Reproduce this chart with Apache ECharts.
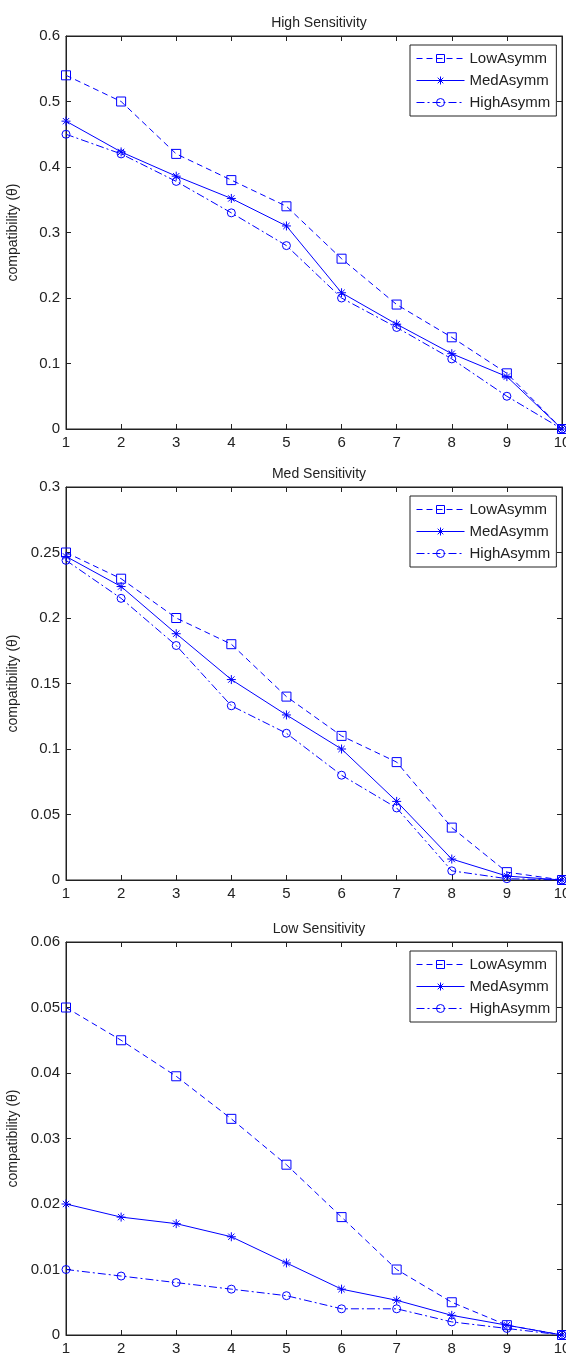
<!DOCTYPE html>
<html><head><meta charset="utf-8">
<script src="https://cdn.jsdelivr.net/npm/echarts@6/dist/echarts.min.js"></script>
<style>html,body{margin:0;padding:0;background:#fff}#c{width:566px;height:1353px}</style>
</head><body><div id="c"></div>
<script>
const xValues = [1,2,3,4,5,6,7,8,9,10];
const seriesNames = ['LowAsymm','MedAsymm','HighAsymm'];
const panelTitles = ['High Sensitivity','Med Sensitivity','Low Sensitivity'];
const yAxisTitle = 'compatibility (θ)';

// High Sensitivity
const highLow  = [0.54, 0.50, 0.42, 0.38, 0.34, 0.26, 0.19, 0.14, 0.085, 0.0];
const highMed  = [0.47, 0.423, 0.386, 0.352, 0.31, 0.208, 0.16, 0.115, 0.08, 0.0];
const highHigh = [0.45, 0.42, 0.378, 0.33, 0.28, 0.20, 0.155, 0.107, 0.05, 0.0];
// Med Sensitivity
const medLow  = [0.25, 0.23, 0.20, 0.18, 0.14, 0.11, 0.09, 0.04, 0.006, 0.0];
const medMed  = [0.247, 0.224, 0.188, 0.153, 0.126, 0.10, 0.06, 0.016, 0.003, 0.0];
const medHigh = [0.244, 0.215, 0.179, 0.133, 0.112, 0.08, 0.055, 0.007, 0.001, 0.0];
// Low Sensitivity
const lowLow  = [0.05, 0.045, 0.0395, 0.033, 0.026, 0.018, 0.010, 0.005, 0.0015, 0.0];
const lowMed  = [0.020, 0.018, 0.017, 0.015, 0.011, 0.007, 0.0053, 0.003, 0.0015, 0.0];
const lowHigh = [0.010, 0.009, 0.008, 0.007, 0.006, 0.004, 0.004, 0.002, 0.001, 0.0];

const yMax = [0.6, 0.3, 0.06];
const yStep = [0.1, 0.05, 0.01];
const panelData = [[highLow, highMed, highHigh],[medLow, medMed, medHigh],[lowLow, lowMed, lowHigh]];

const BLUE = '#0000ff';
const TXT = '#222';
const FONT = 'Liberation Sans, Arial, sans-serif';
const gridTops = [36, 487, 942];
const gridH = 393;

const lineTypes = [[6,4], 'solid', [8,3,2,3]];
const symbols = ['rect', 'path://M0,-10L0,10M-10,0L10,0M-7,-7L7,7M-7,7L7,-7', 'circle'];
const symSizes = [9, 9, 8];

const option = {
  animation: false,
  backgroundColor: '#fff',
  title: [], grid: [], xAxis: [], yAxis: [], series: [], legend: []
};

for (let p = 0; p < 3; p++) {
  option.title.push({
    text: panelTitles[p], left: 314, top: gridTops[p] - 25, textAlign: 'center',
    textStyle: {fontFamily: FONT, fontSize: 14, fontWeight: 'normal', color: TXT}
  });
  option.grid.push({left: 66, right: 4, top: gridTops[p], height: gridH, show: true,
    borderColor: '#222', borderWidth: 1, backgroundColor: 'transparent',
    containLabel: false, outerBoundsMode: 'none'});
  const xi = option.xAxis.length;
  option.xAxis.push({
    gridIndex: p, type: 'value', min: 1, max: 10, interval: 1, position: 'bottom',
    axisLine: {show: true, onZero: false, lineStyle: {color: '#222', width: 1}},
    axisTick: {show: true, inside: true, length: 5, lineStyle: {color: '#222'}},
    axisLabel: {show: true, color: TXT, fontFamily: FONT, fontSize: 15, margin: 6},
    splitLine: {show: false}
  });
  option.xAxis.push({
    gridIndex: p, type: 'value', min: 1, max: 10, interval: 1, position: 'top',
    axisLine: {show: true, onZero: false, lineStyle: {color: '#222', width: 1}},
    axisTick: {show: true, inside: true, length: 5, lineStyle: {color: '#222'}},
    axisLabel: {show: false}, splitLine: {show: false}
  });
  const yi = option.yAxis.length;
  option.yAxis.push({
    gridIndex: p, type: 'value', min: 0, max: yMax[p], interval: yStep[p], position: 'left',
    name: yAxisTitle, nameLocation: 'middle', nameGap: 46, nameRotate: 90,
    nameTextStyle: {color: TXT, fontFamily: FONT, fontSize: 14},
    axisLine: {show: true, onZero: false, lineStyle: {color: '#222', width: 1}},
    axisTick: {show: true, inside: true, length: 5, lineStyle: {color: '#222'}},
    axisLabel: {show: true, color: TXT, fontFamily: FONT, fontSize: 15, margin: 6},
    splitLine: {show: false}
  });
  option.yAxis.push({
    gridIndex: p, type: 'value', min: 0, max: yMax[p], interval: yStep[p], position: 'right',
    axisLine: {show: true, onZero: false, lineStyle: {color: '#222', width: 1}},
    axisTick: {show: true, inside: true, length: 5, lineStyle: {color: '#222'}},
    axisLabel: {show: false}, splitLine: {show: false}
  });
  for (let s = 0; s < 3; s++) {
    option.series.push({
      name: seriesNames[s], type: 'line', xAxisIndex: xi, yAxisIndex: yi,
      data: xValues.map((x, i) => [x, panelData[p][s][i]]),
      symbol: symbols[s], symbolSize: symSizes[s], showSymbol: true,
      color: BLUE,
      lineStyle: {color: BLUE, width: 1, type: lineTypes[s]},
      itemStyle: {color: 'transparent', borderColor: BLUE, borderWidth: 1},
      clip: false, z: 3
    });
  }
  option.legend.push({
    data: seriesNames, orient: 'vertical', left: 410, top: gridTops[p] + 9,
    width: 146, itemWidth: 48, itemHeight: 10, itemGap: 7,
    padding: [6, 6, 6, 6], borderColor: '#222', borderWidth: 1, backgroundColor: '#fff',
    textStyle: {color: TXT, fontFamily: FONT, fontSize: 15},
    lineStyle: {width: 1, color: BLUE},
    itemStyle: {color: 'transparent', borderColor: BLUE, borderWidth: 1},
    selectedMode: false
  });
}

const chart = echarts.init(document.getElementById('c'), null, {renderer: 'canvas'});
chart.setOption(option);
</script></body></html>
